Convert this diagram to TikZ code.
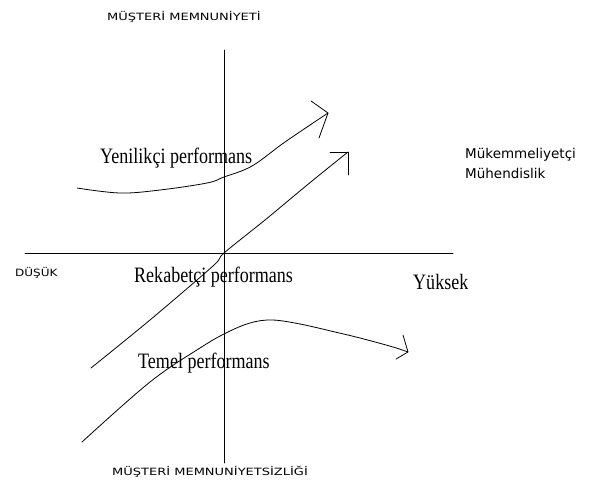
\documentclass[tikz,border=0pt]{standalone}
\usepackage{graphicx}
\usepackage{fontspec}
\setmainfont{Liberation Serif}
\newfontfamily\dvs{DejaVu Sans}
\begin{document}
\begin{tikzpicture}[x=1pt,y=-1pt,
  ln/.style={line width=0.8pt, line cap=round, line join=round},
  serifl/.style={font=\fontsize{22}{22}\selectfont, inner sep=0, anchor=west},
  capsl/.style={font=\dvs\fontsize{10}{11}\selectfont, inner sep=0, anchor=west},
  sansl/.style={font=\dvs\fontsize{13.5}{15}\selectfont, inner sep=0, anchor=west}]
\useasboundingbox (0,0) rectangle (604,481);
% axes
\coordinate (vt) at (224,50);
\coordinate (vb) at (224,463);
\coordinate (hl) at (25,253);
\coordinate (hr) at (453,253);
\draw[ln] (vt) -- (vb);
\draw[ln] (hl) -- (hr);
% axis labels
\node[capsl] (top) at (107,17) {\scalebox{1.3}[1]{MÜŞTERİ MEMNUNİYETİ}};
\node[capsl] (bot) at (112,472) {\scalebox{1.3}[1]{MÜŞTERİ MEMNUNİYETSİZLİĞİ}};
\node[capsl] (low) at (15,273) {\scalebox{1.2}[1]{DÜŞÜK}};
\node[serifl] (high) at (413,282) {\scalebox{0.82}[1]{Yüksek}};
% curve labels
\node[serifl] (yen) at (100,158) {\scalebox{0.82}[1]{Yenilikçi performans}};
\node[serifl] (rek) at (134,277) {\scalebox{0.82}[1]{Rekabetçi performans}};
\node[serifl] (tem) at (138,363) {\scalebox{0.82}[1]{Temel performans}};
\node[sansl] (muk) at (465,155) {Mükemmeliyetçi};
\node[sansl] (muh) at (465,173) {Mühendislik};
% Yenilikci curve
\coordinate (ytip) at (328,113);
\draw[ln] plot[smooth, tension=0.6] coordinates {(77,188) (120,193) (160,190) (207,183) (224,177) (252,166) (285,142) (328,113)};
\draw[ln] (311,101) -- (ytip) -- (319,138);
% Rekabetci line
\coordinate (rtip) at (348,152);
\draw[ln] plot[smooth, tension=0.5] coordinates {(91,368) (150,320) (213,266) (224,253) (265,220) (312,181) (348,152)};
\draw[ln] (330,152) -- (rtip) -- (348,175);
% Temel curve
\coordinate (ttip) at (408,352);
\draw[ln] plot[smooth, tension=0.6] coordinates {(82,442) (150,382) (200,348) (226,333) (250,323) (272,320) (300,324) (335,332) (360,338) (393,347) (408,352)};
\draw[ln] (403,335) -- (ttip) -- (396,359);
\end{tikzpicture}
\end{document}
